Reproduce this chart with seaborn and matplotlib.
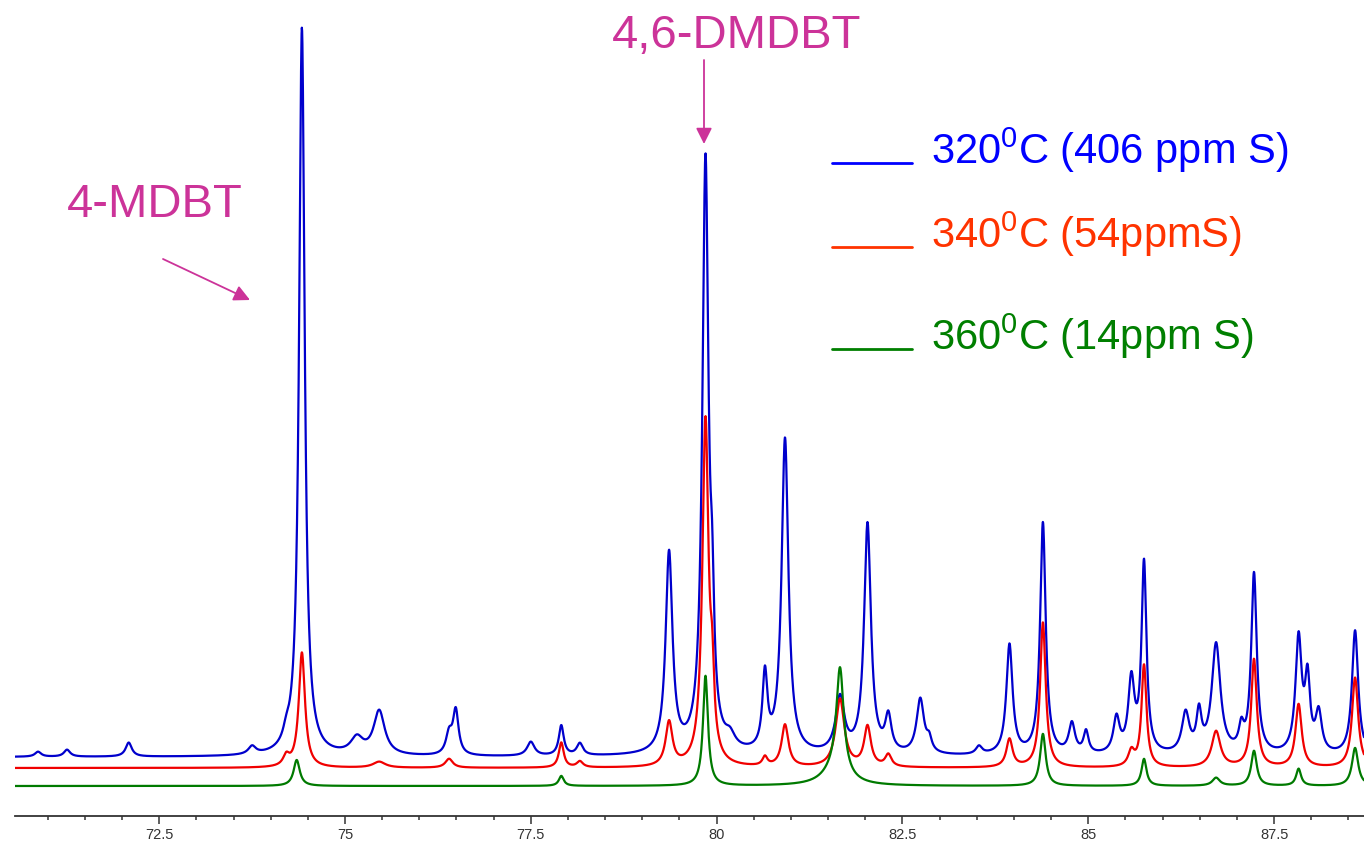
import numpy as np
import pandas as pd
import seaborn as sns
import matplotlib
matplotlib.use("Agg")
import matplotlib.pyplot as plt
from matplotlib.lines import Line2D

# ---------------- data ----------------
# chemical shift axis (ppm) and tick labels
x_min, x_max = 70.56, 88.71
major_ticks = [72.5, 75, 77.5, 80, 82.5, 85, 87.5]
tick_labels = ["72.5", "75", "77.5", "80", "82.5", "85", "87.5"]

# 320 C (406 ppm S) - blue trace: peak positions, heights, half widths
blue_pos = [70.87, 71.26, 72.09, 73.75, 74.21, 74.42, 75.16, 75.46, 76.40, 76.49,
            77.50, 77.91, 78.16, 79.36, 79.85, 79.94, 80.18, 80.65, 80.92, 81.66,
            82.03, 82.31, 82.74, 82.86, 83.53, 83.94, 84.39, 84.78, 84.97, 85.38,
            85.58, 85.75, 86.31, 86.49, 86.72, 87.06, 87.23, 87.83, 87.95, 88.10, 88.59]
blue_h = [5, 7, 14, 8, 10, 728, 16, 44, 20, 44,
          14, 30, 12, 200, 590, 90, 12, 75, 315, 55,
          230, 35, 55, 12, 8, 110, 232, 30, 22, 35,
          72, 190, 40, 38, 110, 22, 180, 115, 70, 40, 125]
blue_w = [0.05, 0.05, 0.05, 0.06, 0.05, 0.045, 0.10, 0.09, 0.05, 0.045,
          0.06, 0.04, 0.05, 0.055, 0.05, 0.03, 0.08, 0.04, 0.055, 0.07,
          0.055, 0.05, 0.06, 0.04, 0.05, 0.05, 0.045, 0.05, 0.04, 0.05,
          0.05, 0.04, 0.06, 0.04, 0.07, 0.04, 0.045, 0.05, 0.04, 0.05, 0.05]
blue_base = 59

# 340 C (54 ppm S) - red trace
red_pos = [74.21, 74.42, 75.46, 76.40, 77.91, 78.16, 79.36, 79.85, 79.94, 80.65,
           80.92, 81.66, 82.03, 82.31, 83.94, 84.39, 85.58, 85.75, 86.72, 87.23,
           87.83, 88.59]
red_h = [10, 115, 6, 9, 25, 6, 44, 345, 60, 9,
         42, 68, 40, 12, 28, 145, 15, 102, 36, 108,
         63, 90]
red_w = [0.05, 0.05, 0.10, 0.06, 0.04, 0.05, 0.055, 0.05, 0.03, 0.04,
         0.055, 0.07, 0.055, 0.05, 0.05, 0.045, 0.05, 0.04, 0.07, 0.045,
         0.05, 0.05]
red_base = 48

# 360 C (14 ppm S) - green trace
green_pos = [74.35, 77.91, 79.85, 81.60, 81.66, 84.39, 85.75, 86.72, 87.23, 87.83, 88.59]
green_h = [26, 10, 110, 15, 105, 52, 27, 8, 35, 17, 38]
green_w = [0.05, 0.04, 0.04, 0.20, 0.06, 0.045, 0.04, 0.06, 0.045, 0.04, 0.05]
green_base = 30

series_names = ["320$^{\\mathrm{0}}$C (406 ppm S)",
                "340$^{\\mathrm{0}}$C (54ppmS)",
                "360$^{\\mathrm{0}}$C (14ppm S)"]
line_colors = ["#0000cc", "#f00000", "#007a00"]
legend_colors = ["#0000ff", "#ff3300", "#007f00"]
annot_color = "#cc3399"

# ---------------- build traces ----------------
ppm = np.linspace(x_min, x_max, 5000)


def trace(pos, h, w, base):
    y = np.full_like(ppm, float(base))
    for p, hh, ww in zip(pos, h, w):
        y += hh * ww ** 2 / ((ppm - p) ** 2 + ww ** 2)
    return y


frames = []
for name, (pos, h, w, b) in zip(series_names, [(blue_pos, blue_h, blue_w, blue_base),
                                               (red_pos, red_h, red_w, red_base),
                                               (green_pos, green_h, green_w, green_base)]):
    frames.append(pd.DataFrame({"ppm": ppm, "intensity": trace(pos, h, w, b), "series": name}))
df = pd.concat(frames, ignore_index=True)

# ---------------- figure ----------------
sns.set_style("ticks")
plt.rcParams["font.family"] = ["Liberation Sans", "DejaVu Sans"]
plt.rcParams["mathtext.fontset"] = "custom"
plt.rcParams["mathtext.rm"] = "Liberation Sans"
plt.rcParams["mathtext.it"] = "Liberation Sans:italic"

W, H = 1364, 848
fig = plt.figure(figsize=(W / 100, H / 100), dpi=100)
ax = fig.add_axes([15 / W, 1 - 816 / H, 1 - 15 / W, 816 / H])

for name, col in zip(series_names, line_colors):
    sub = df[df["series"] == name]
    sns.lineplot(data=sub, x="ppm", y="intensity", color=col, lw=1.6,
                 estimator=None, sort=False, ax=ax, legend=False)

ax.set_xlim(x_min, x_max)
ax.set_ylim(0, 816)
ax.set_xlabel("")
ax.set_ylabel("")
ax.set_yticks([])
ax.set_xticks(major_ticks)
ax.set_xticklabels(tick_labels)
ax.set_xticks(np.arange(71.0, 88.75, 0.5), minor=True)
ax.tick_params(axis="x", which="major", length=6, width=1.1, color="#333333",
               labelsize=10.5, labelcolor="#333333", pad=2.5)
ax.tick_params(axis="x", which="minor", length=3, width=1.1, color="#333333")
sns.despine(ax=ax, left=True, top=True, right=True)
ax.spines["bottom"].set_color("#333333")
ax.spines["bottom"].set_linewidth(1.3)
ax.patch.set_alpha(0)


def fx(px):
    return px / W


def fy(py):
    return 1 - py / H


# annotations
fig.text(fx(155), fy(205), "4-MDBT", color=annot_color, fontsize=34,
         ha="center", va="center")
fig.text(fx(737), fy(36), "4,6-DMDBT", color=annot_color, fontsize=34,
         ha="center", va="center")
ax.annotate("", xy=(fx(250), fy(300)), xytext=(fx(163), fy(259)),
            xycoords="figure fraction", textcoords="figure fraction",
            arrowprops=dict(arrowstyle="-|>", color=annot_color, lw=1.3,
                            mutation_scale=24, shrinkA=0, shrinkB=0))
ax.annotate("", xy=(fx(704), fy(144)), xytext=(fx(704), fy(60)),
            xycoords="figure fraction", textcoords="figure fraction",
            arrowprops=dict(arrowstyle="-|>", color=annot_color, lw=1.3,
                            mutation_scale=24, shrinkA=0, shrinkB=0))

# legend drawn as in the reference
legend_y = [163, 247, 349]
for name, col, yy in zip(series_names, legend_colors, legend_y):
    fig.add_artist(Line2D([fx(832), fx(912)], [fy(yy), fy(yy)], color=col, lw=2))
    fig.text(fx(931), fy(yy + 1), name, color=col, fontsize=30,
             ha="left", va="baseline")

fig.savefig("out.png", dpi=100)
